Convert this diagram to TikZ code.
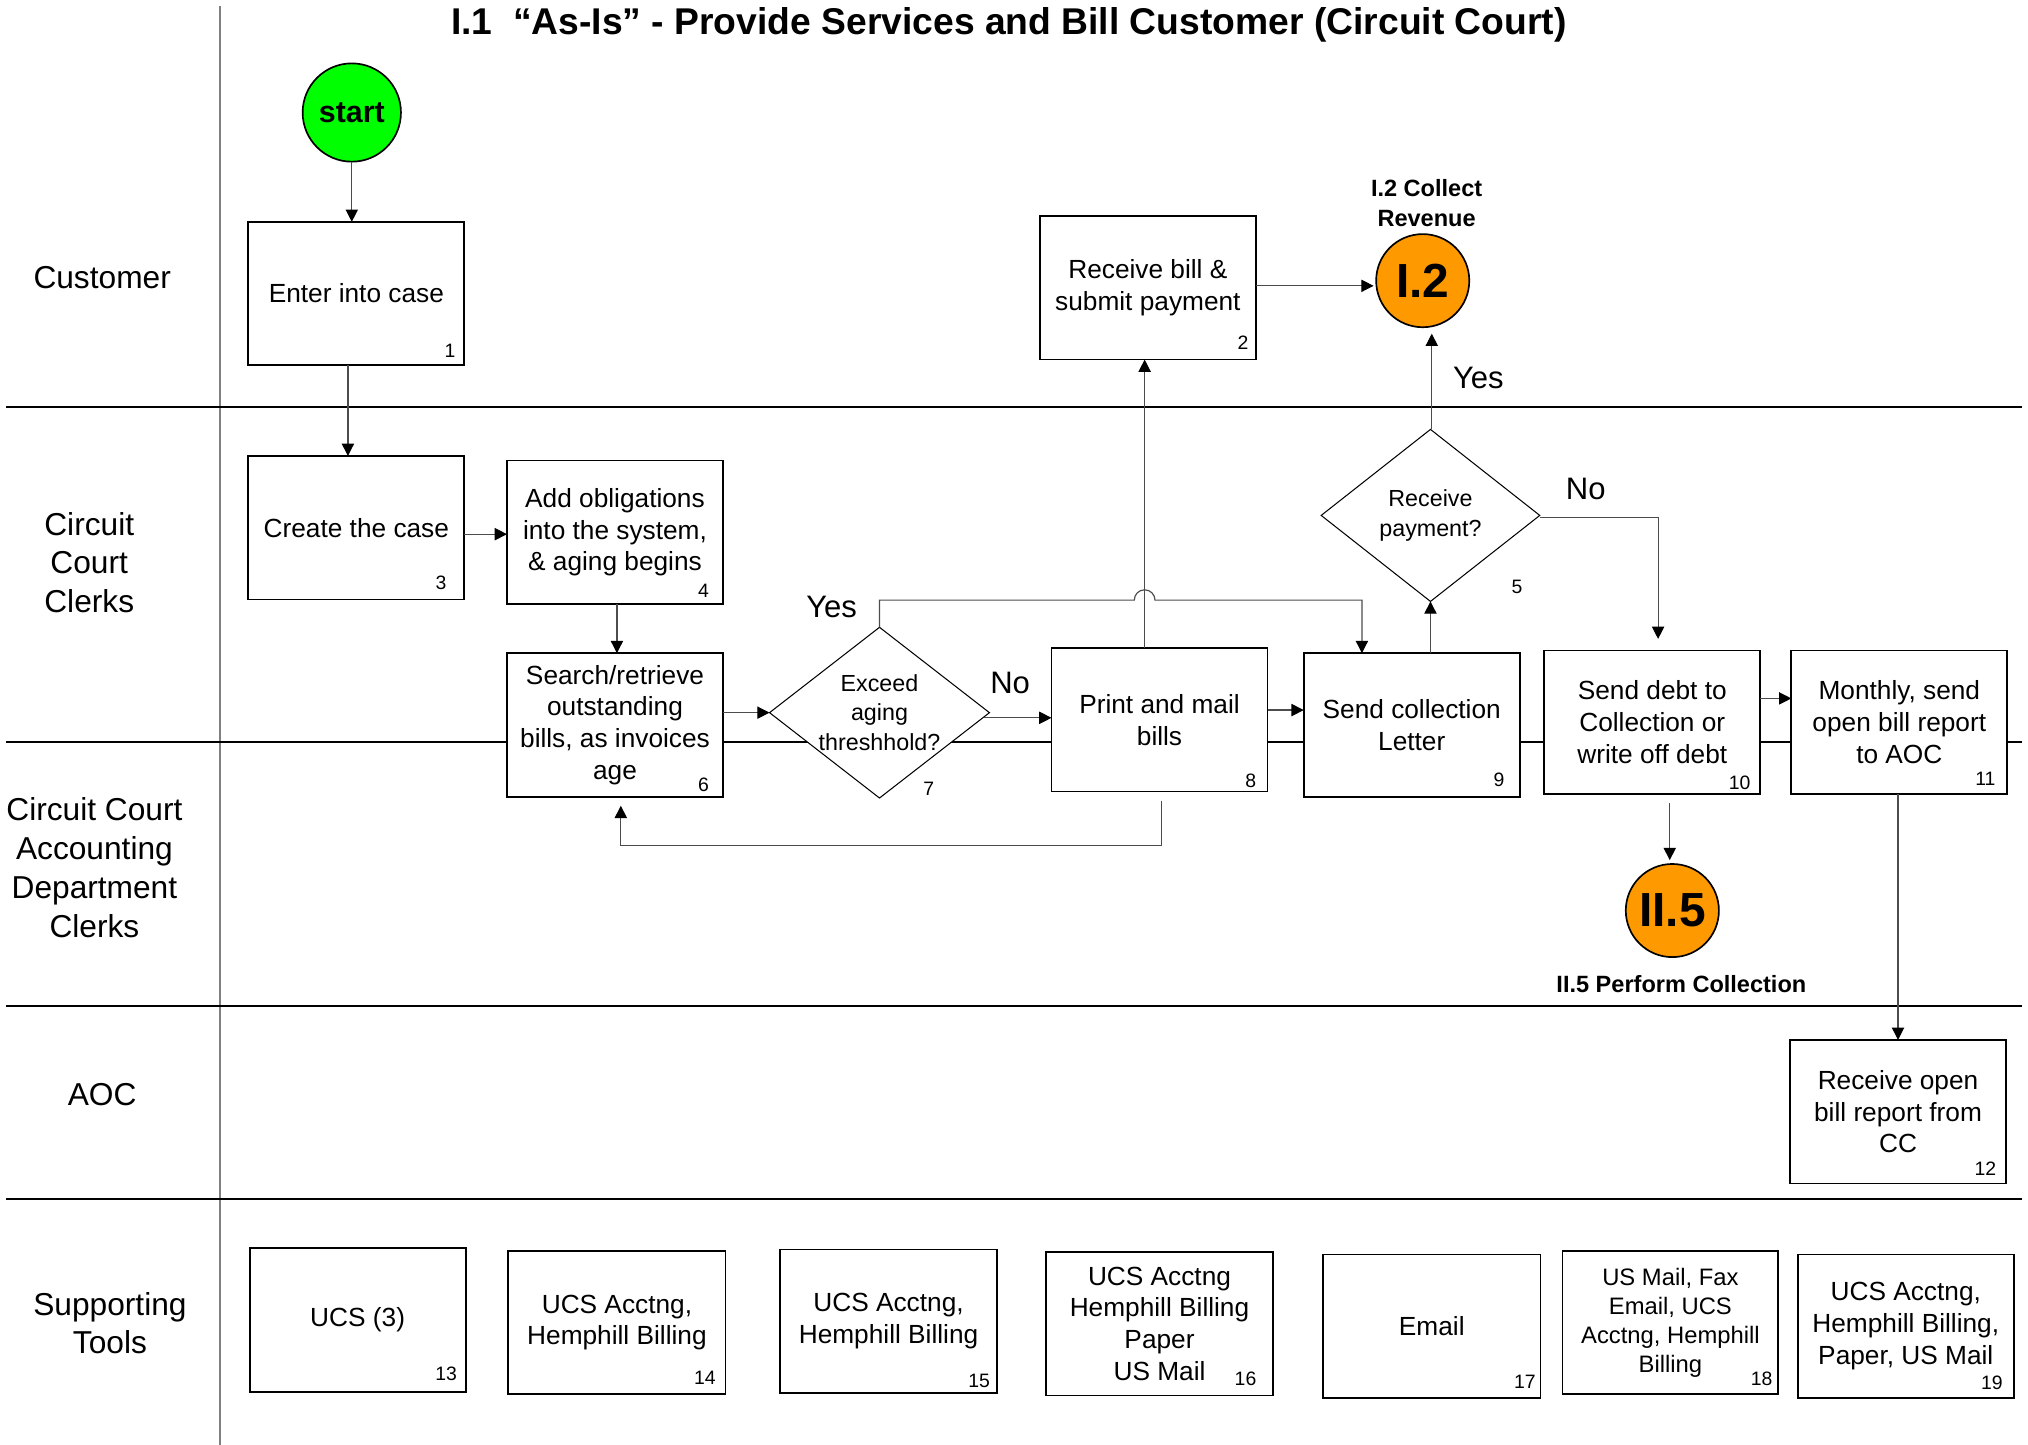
\documentclass[tikz,border=0pt]{standalone}
\usepackage{fontspec}
\setmainfont{Liberation Sans}
\usetikzlibrary{shapes.geometric,arrows.meta,calc}

\definecolor{startgreen}{HTML}{00FF00}
\definecolor{reforange}{HTML}{FF9900}

\begin{document}
\begin{tikzpicture}[x=1pt,y=-1pt,
  every node/.style={inner sep=0pt, outer sep=0pt},
  lane/.style={line width=1.6pt, black},
  sepline/.style={line width=1.5pt, black!50},
  lanelbl/.style={align=center, font=\fontsize{24.5}{30}\selectfont},
  procbox/.style={draw, line width=1.4pt, fill=white, minimum width=167pt,
    minimum height=111pt, align=center, font=\fontsize{20.3}{24.6}\selectfont},
  decision/.style={diamond, draw, line width=0.8pt, fill=white,
    minimum width=170pt, minimum height=132pt},
  dtext/.style={align=center, font=\fontsize{18}{22.6}\selectfont},
  num/.style={font=\fontsize{15}{15}\selectfont},
  yn/.style={font=\fontsize{24}{24}\selectfont},
  refcircle/.style={circle, draw, line width=1.3pt, fill=reforange,
    minimum size=72pt, font=\bfseries\fontsize{37}{37}\selectfont},
  reflbl/.style={align=center, font=\bfseries\fontsize{18.2}{23}\selectfont},
  conn/.style={draw=black!70, line width=0.9pt,
    -{Triangle[length=9.5pt,width=9.5pt,color=black]}}
]
\useasboundingbox (0,0) rectangle (1568,1117);

% swim lanes
\draw[sepline] (170,5) -- (170,1117);
\foreach \ly in {315,574,778,927} \draw[lane] (5,\ly) -- (1563,\ly);

% title and lane names
\node[font=\bfseries\fontsize{28.8}{30}\selectfont] (title) at (780,19)
  {I.1\ \ “As-Is” - Provide Services and Bill Customer (Circuit Court)};
\node[lanelbl] (lcust) at (79,215) {Customer};
\node[lanelbl] (lclerk) at (69,435) {Circuit\\Court\\Clerks};
\node[lanelbl] (lacct) at (73,671) {Circuit Court\\Accounting\\Department\\Clerks};
\node[lanelbl] (laoc) at (79,846) {AOC};
\node[lanelbl] (ltools) at (85,1023) {Supporting\\Tools};

% terminators and off-page references
\node[circle, draw, line width=1.3pt, fill=startgreen, minimum size=76pt,
  font=\bfseries\fontsize{23.5}{24}\selectfont] (start) at (272,87) {start};
\node[refcircle] (c12) at (1100,217) {I.2};
\node[reflbl] (c12lbl) at (1103,157) {I.2 Collect\\Revenue};
\node[refcircle] (c25) at (1293,704) {II.5};
\node[reflbl] (c25lbl) at (1300,761) {II.5 Perform Collection};

% process steps
\node[procbox] (b1) at (275.5,227) {Enter into case};
\node[procbox] (b2) at (887.5,222.5) {Receive bill \&\\submit payment};
\node[procbox] (b3) at (275.5,408) {Create the case};
\node[procbox] (b4) at (475.5,411.5) {Add obligations\\into the system,\\\& aging begins};
\node[procbox] (b6) at (475.5,560.5) {Search/retrieve\\outstanding\\bills, as invoices\\age};
\node[procbox] (b8) at (896.5,556.5) {Print and mail\\bills};
\node[procbox] (b9) at (1091.5,560.5) {Send collection\\Letter};
\node[procbox] (b10) at (1277.5,558.5) {Send debt to\\Collection or\\write off debt};
\node[procbox] (b11) at (1468.5,558.5) {Monthly, send\\open bill report\\to AOC};
\node[procbox] (b12) at (1467.5,859.5) {Receive open\\bill report from\\CC};

% decisions
\node[decision, label={[dtext]center:{Exceed\\aging\\threshhold?}}] (d7) at (680,551) {};
\node[decision, minimum width=169pt, minimum height=133pt,
  label={[dtext]center:{Receive\\payment?}}] (d5) at (1106,398.5) {};

% supporting tools
\node[procbox] (t13) at (276.5,1020.5) {UCS (3)};
\node[procbox, minimum width=168pt] (t14) at (477,1022.5) {UCS Acctng,\\Hemphill Billing};
\node[procbox, minimum width=168pt] (t15) at (687,1021.5) {UCS Acctng,\\Hemphill Billing};
\node[procbox, minimum width=175pt] (t16) at (896.5,1023.5) {UCS Acctng\\Hemphill Billing\\Paper\\US Mail};
\node[procbox, minimum width=168pt] (t17) at (1107,1025.5) {Email};
\node[procbox, font=\fontsize{18.4}{22.4}\selectfont] (t18) at (1291.5,1022.5)
  {US Mail, Fax\\Email, UCS\\Acctng, Hemphill\\Billing};
\node[procbox] (t19) at (1473.5,1025.5) {UCS Acctng,\\Hemphill Billing,\\Paper, US Mail};

% step numbers
\node[num] (n1) at (348,271) {1};
\node[num] (n2) at (961,265) {2};
\node[num] (n3) at (341,451) {3};
\node[num] (n4) at (544,457) {4};
\node[num] (n5) at (1173,454) {5};
\node[num] (n6) at (544,607) {6};
\node[num] (n7) at (718,610) {7};
\node[num] (n8) at (967,604) {8};
\node[num] (n9) at (1159,603) {9};
\node[num] (n10) at (1345,605) {10};
\node[num] (n11) at (1535,602) {11};
\node[num] (n12) at (1535,904) {12};
\node[num] (n13) at (345,1062) {13};
\node[num] (n14) at (545,1065) {14};
\node[num] (n15) at (757,1068) {15};
\node[num] (n16) at (963,1066) {16};
\node[num] (n17) at (1179,1068) {17};
\node[num] (n18) at (1362,1066) {18};
\node[num] (n19) at (1540,1069) {19};

% branch labels
\node[yn] (yes7) at (643,469) {Yes};
\node[yn] (no7) at (781,528) {No};
\node[yn] (yes5) at (1143,292) {Yes};
\node[yn] (no5) at (1226,378) {No};

% helper points for the routed connectors
\coordinate (mailx) at ($(b8.north)+(-11.5,0)$);
\coordinate (yesturn) at ($(b9.north)+(-38.5,-41)$);
\coordinate (hop) at (mailx |- yesturn);
\coordinate (b9in) at ($(b9.north)+(-38.5,0)$);
\coordinate (b10out) at ($(b10.south)+(13.5,0)$);
\coordinate (c25in) at (b10out |- c25.north);
\coordinate (d5up) at ($(d5.north)+(1,0)$);
\coordinate (c12in) at (d5up |- c12.south);

% connectors
\draw[conn] (start) -- (start |- b1.north);
\draw[conn] ($(b1.south)+(-6.5,0)$) -- ($(b3.north)+(-6.5,0)$);
\draw[conn] ($(b3.east)+(0,5)$) -- ($(b3.east -| b4.west)+(0,5)$);
\draw[conn] ($(b4.south)+(1.5,0)$) -- ($(b6.north)+(1.5,0)$);
\draw[conn] (d7.west -| b6.east) -- (d7.west);
\draw[conn] ($(d7.east)+(-4,4)$) -- ($(d7.east -| b8.west)+(0,4)$);
\draw[conn] (d7.north) |- ($(hop)+(-8,0)$)
  arc[start angle=180, end angle=360, radius=8] -- (yesturn) -- (b9in);
\draw[conn] (mailx) -- (mailx |- b2.south);
\draw[conn, shorten <=7pt, shorten >=7pt] ($(b8.south)+(1.5,0)$) -- ++(0,42)
  -| ($(b6.south)+(4.5,0)$);
\draw[conn] ($(b8.east)+(0,-7.5)$) -- ($(b8.east -| b9.west)+(0,-7.5)$);
\draw[conn] (d5.south |- b9.north) -- (d5.south);
\draw[conn, shorten >=5pt] (d5up) -- (c12in);
\draw[conn, shorten >=9pt] ($(d5.east)+(0,1.5)$) -| ($(b10.north)+(4.5,0)$);
\draw[conn, shorten <=7pt, shorten >=3pt] (b10out) -- (c25in);
\draw[conn] ($(b10.east)+(0,-18.5)$) -- ($(b10.east -| b11.west)+(0,-18.5)$);
\draw[conn] (b12.north |- b11.south) -- (b12.north);
\draw[conn, shorten >=2pt] ($(b2.east)+(0,-1.5)$) -- ($(b2.east -| c12.west)+(0,-1.5)$);
\end{tikzpicture}
\end{document}
